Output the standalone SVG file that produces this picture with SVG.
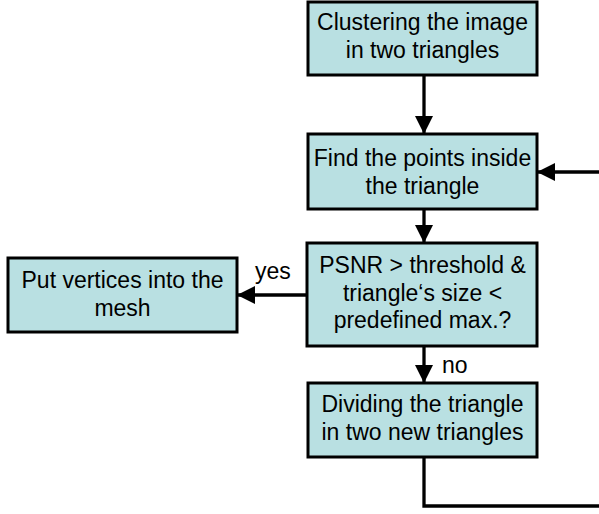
<svg xmlns="http://www.w3.org/2000/svg" width="599" height="514" viewBox="0 0 599 514">
<style>
.box{fill:#B9E0E2;stroke:#000;stroke-width:3}
.t{font-family:"Liberation Sans",Arial,sans-serif;font-size:23px;fill:#000;text-anchor:middle}
.l{font-family:"Liberation Sans",Arial,sans-serif;font-size:23px;fill:#000}
.c{fill:none;stroke:#000;stroke-width:3.3}
</style>
<defs>
<marker id="ah" markerUnits="userSpaceOnUse" markerWidth="18" markerHeight="18" refX="18" refY="9" orient="auto">
<path d="M0,0 L18,9 L0,18 z" fill="#000"/>
</marker>
</defs>
<g id="connectors">
<path class="c" d="M424,75 V134" marker-end="url(#ah)"/>
<path class="c" d="M424,209 V243" marker-end="url(#ah)"/>
<path class="c" d="M307,295 H237" marker-end="url(#ah)"/>
<path class="c" d="M424,346 V383" marker-end="url(#ah)"/>
<path class="c" d="M424,457 V506 H612 V172 H537" marker-end="url(#ah)"/>
<text class="l" x="255" y="279">yes</text>
<text class="l" x="442" y="373">no</text>
</g>
<g id="n1">
<rect class="box" x="308" y="2" width="229" height="73"/>
<text class="t" x="422.5" y="30">Clustering the image</text>
<text class="t" x="422.5" y="57.5">in two triangles</text>
</g>
<g id="n2">
<rect class="box" x="308" y="134" width="229" height="75"/>
<text class="t" x="422.5" y="166">Find the points inside</text>
<text class="t" x="422.5" y="193.5">the triangle</text>
</g>
<g id="n3">
<rect class="box" x="307" y="243" width="230" height="103"/>
<text class="t" x="422.5" y="273">PSNR &gt; threshold &amp;</text>
<text class="t" x="422.5" y="300.5">triangle‘s size &lt;</text>
<text class="t" x="422.5" y="328">predefined max.?</text>
</g>
<g id="n4">
<rect class="box" x="8" y="258" width="229" height="74"/>
<text class="t" x="122.5" y="288">Put vertices into the</text>
<text class="t" x="122.5" y="315.5">mesh</text>
</g>
<g id="n5">
<rect class="box" x="308" y="383" width="229" height="74"/>
<text class="t" x="422.5" y="412">Dividing the triangle</text>
<text class="t" x="422.5" y="439.5">in two new triangles</text>
</g>
</svg>
